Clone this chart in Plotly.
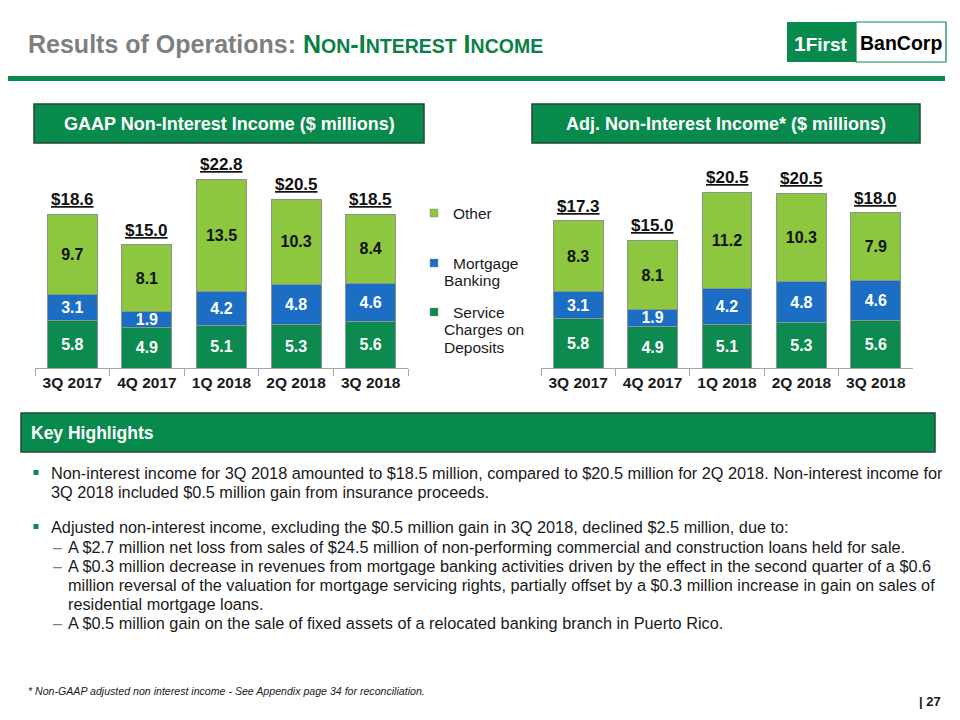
import plotly.graph_objects as go

# ---------------- data ----------------
quarters = ["3Q 2017", "4Q 2017", "1Q 2018", "2Q 2018", "3Q 2018"]
gaap_service = [5.8, 4.9, 5.1, 5.3, 5.6]
gaap_mortgage = [3.1, 1.9, 4.2, 4.8, 4.6]
gaap_other = [9.7, 8.1, 13.5, 10.3, 8.4]
gaap_total = [18.6, 15.0, 22.8, 20.5, 18.5]
adj_service = [5.8, 4.9, 5.1, 5.3, 5.6]
adj_mortgage = [3.1, 1.9, 4.2, 4.8, 4.6]
adj_other = [8.3, 8.1, 11.2, 10.3, 7.9]
adj_total = [17.3, 15.0, 20.5, 20.5, 18.0]
series_names = ["Service Charges on Deposits", "Mortgage Banking", "Other"]

# ---------------- style ----------------
W, H = 960, 720
FONT = "Liberation Sans"
C_SERVICE = "#0c8a4f"
C_MORT = "#1b6ec4"
C_OTHER = "#8dc63f"
C_BOX = "#098a4d"
C_BOXLINE = "#27463a"
C_TITLEGREEN = "#0b8046"
colors = [C_SERVICE, C_MORT, C_OTHER]
txtcolors = ["white", "white", "#111111"]


def px(x):
    return x / W


def py(y):
    return 1 - y / H


fig = go.Figure()

charts = [
    ("x", "y", [gaap_service, gaap_mortgage, gaap_other], gaap_total),
    ("x2", "y2", [adj_service, adj_mortgage, adj_other], adj_total),
]

annotations = []
for xa, ya, segs, totals in charts:
    for name, vals, col, tcol in zip(series_names, segs, colors, txtcolors):
        fig.add_trace(go.Bar(
            x=quarters, y=vals, name=name, xaxis=xa, yaxis=ya,
            marker=dict(color=col, line=dict(color="#8a958f", width=1)),
            text=[f"{v:.1f}" for v in vals], textposition="inside",
            insidetextanchor="middle", textangle=0,
            textfont=dict(family=FONT, size=16, color=tcol, weight="bold"),
            showlegend=False, hoverinfo="skip",
        ))
    stack = [sum(t) for t in zip(*segs)]
    for q, s, t in zip(quarters, stack, totals):
        annotations.append(dict(
            x=q, y=s, xref=xa, yref=ya, yanchor="bottom", yshift=3,
            text=f"<u>${t:.1f}</u>", showarrow=False,
            font=dict(family=FONT, size=17, color="#111111", weight="bold"),
        ))

axis_common = dict(
    showline=True, linecolor="#a6a6a6", linewidth=1,
    ticks="outside", tickson="boundaries", ticklen=7, tickcolor="#a6a6a6",
    tickfont=dict(family=FONT, size=15.5, color="#1a1a1a", weight="bold"),
    showgrid=False, zeroline=False, fixedrange=True,
)
yaxis_common = dict(visible=False, showgrid=False, zeroline=False, fixedrange=True)

fig.update_layout(
    width=W, height=H, margin=dict(l=0, r=0, t=0, b=0),
    paper_bgcolor="white", plot_bgcolor="white",
    barmode="stack", bargap=0.33,
    font=dict(family=FONT, color="#1a1a1a"),
    uniformtext=dict(minsize=16, mode="show"),
    xaxis=dict(domain=[px(35), px(408)], anchor="y", **axis_common),
    yaxis=dict(domain=[py(368), py(161.25)], range=[0, 25], anchor="x", **yaxis_common),
    xaxis2=dict(domain=[px(541), px(913)], anchor="y2", **axis_common),
    yaxis2=dict(domain=[py(368), py(162.3)], range=[0, 24], anchor="x2", **yaxis_common),
)

shapes = []


def rect(x0, y0, x1, y1, fill, line=None, lw=0):
    shapes.append(dict(type="rect", xref="paper", yref="paper",
                       x0=px(x0), x1=px(x1), y0=py(y1), y1=py(y0),
                       fillcolor=fill, line=dict(color=line or fill, width=lw),
                       layer="below"))


def text(x, y, s, size=15, color="#1a1a1a", anchor="left", weight="normal", style="normal"):
    annotations.append(dict(
        x=px(x), y=py(y), xref="paper", yref="paper", xanchor=anchor, yanchor="middle",
        text=s, showarrow=False, align=anchor if anchor != "center" else "center",
        font=dict(family=FONT, size=size, color=color, weight=weight, style=style),
    ))


# title
sc = "font-size:19.5px"
title_html = (
    "<span style='color:#7f7f7f'>Results of Operations: </span>"
    f"<span style='color:{C_TITLEGREEN}'>N<span style='{sc}'>ON</span>-I"
    f"<span style='{sc}'>NTEREST</span> I<span style='{sc}'>NCOME</span></span>"
)
text(26, 44, title_html, size=25, weight="bold")

# logo
rect(787, 22, 856, 62, C_BOX)
rect(856, 22, 946, 62, "white", line=C_BOX, lw=1.2)
text(821, 43, "<span style='font-size:21px'>1</span>First", size=19, color="white",
     anchor="center", weight="bold")
text(901, 43, "BanCorp", size=19.5, color="black", anchor="center", weight="bold")

# green rule
rect(8, 76, 945, 81, C_BOX)

# chart header boxes
rect(34, 104, 424, 143, C_BOX, line=C_BOXLINE, lw=1.5)
text(229, 124, "GAAP Non-Interest Income ($ millions)", size=18, color="white",
     anchor="center", weight="bold")
rect(532, 104, 920, 143, C_BOX, line=C_BOXLINE, lw=1.5)
text(726, 124, "Adj. Non-Interest Income* ($ millions)", size=18, color="white",
     anchor="center", weight="bold")

# legend (manual, middle)
leg = [
    (C_OTHER, 213, ["Other"]),
    (C_MORT, 263, ["Mortgage", "Banking"]),
    (C_SERVICE, 312, ["Service", "Charges on", "Deposits"]),
]
for col, y0, lines in leg:
    rect(430, y0 - 4, 438, y0 + 4, col, line="#8a958f", lw=0.5)
    for i, ln in enumerate(lines):
        text(451 if i == 0 else 442, y0 + i * 17.5, ln, size=15.5, color="#1a1a1a")

# key highlights
rect(21, 413, 935, 452, C_BOX, line=C_BOXLINE, lw=1.5)
text(29, 433, "Key Highlights", size=17.5, color="white", weight="bold")

bullet_lines = [
    (49, 473, "Non-interest income for 3Q 2018 amounted to $18.5 million, compared to $20.5 million for 2Q 2018. Non-interest income for"),
    (49, 492, "3Q 2018 included $0.5 million gain from insurance proceeds."),
    (49, 527, "Adjusted non-interest income, excluding the $0.5 million gain in 3Q 2018, declined $2.5 million, due to:"),
    (66, 547, "A $2.7 million net loss from sales of $24.5 million of non-performing commercial and construction loans held for sale."),
    (66, 566, "A $0.3 million decrease in revenues from mortgage banking activities driven by the effect in the second quarter of a $0.6"),
    (66, 585, "million reversal of the valuation for mortgage servicing rights, partially offset by a $0.3 million increase in gain on sales of"),
    (66, 604, "residential mortgage loans."),
    (66, 623, "A $0.5 million gain on the sale of fixed assets of a relocated banking branch in Puerto Rico."),
]
for x, y, s in bullet_lines:
    text(x, y, s, size=16.3, color="#1a1a1a")

for y in (473, 527):
    rect(33.5, y - 3, 38.5, y + 2, C_BOX)
for y in (547, 566, 623):
    text(51, y, "–", size=16, color="#7f7f7f")

# footnote & page
text(26, 691, "* Non-GAAP adjusted non interest income - See Appendix page 34 for reconciliation.",
     size=10.6, color="#1a1a1a", style="italic")
text(943, 701, "| 27", size=13, color="#1a1a1a", anchor="right", weight="bold")

fig.update_layout(shapes=shapes, annotations=annotations)
fig.write_html("out.html", config={"displayModeBar": False, "staticPlot": True},
               post_script="document.body.style.margin='0px';")
